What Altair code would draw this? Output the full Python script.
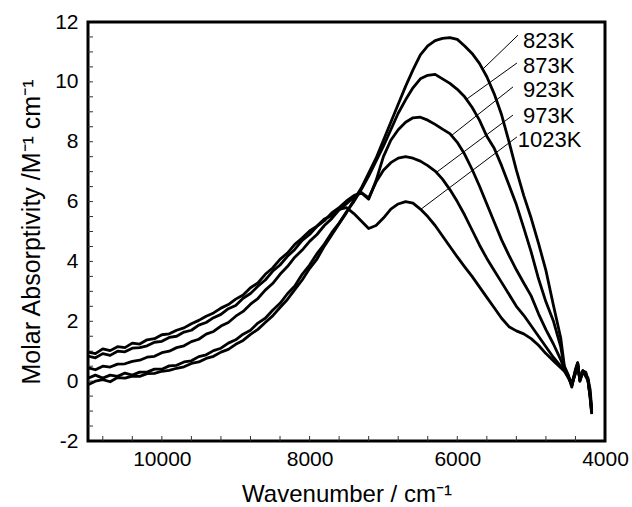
import altair as alt
import pandas as pd

# ---- data ----
wavenumber = [11000, 10900, 10800, 10700, 10600, 10500, 10400, 10300, 10200, 10100,
              10000, 9900, 9800, 9700, 9600, 9500, 9400, 9300, 9200, 9100,
              9000, 8900, 8800, 8700, 8600, 8500, 8400, 8300, 8200, 8100,
              8000, 7900, 7800, 7700, 7600, 7500, 7400, 7300, 7200, 7100,
              7000, 6900, 6800, 6700, 6600, 6500, 6400, 6300, 6200, 6100,
              6000, 5900, 5800, 5700, 5600, 5500, 5400, 5300, 5200, 5100,
              5000, 4900, 4800, 4700, 4600, 4550, 4500, 4450, 4400, 4370,
              4340, 4300, 4260, 4230, 4200, 4180]

a_823 = [-0.12, 0.00, 0.05, -0.02, 0.12, 0.10, 0.17, 0.16, 0.25, 0.26,
         0.33, 0.36, 0.43, 0.48, 0.59, 0.64, 0.76, 0.83, 0.97, 1.06,
         1.23, 1.36, 1.56, 1.73, 1.96, 2.18, 2.46, 2.73, 3.06, 3.38,
         3.76, 4.08, 4.51, 4.88, 5.26, 5.63, 6.05, 6.45, 6.95, 7.45,
         8.05, 8.65, 9.25, 9.85, 10.40, 10.90, 11.20, 11.38, 11.45, 11.48,
         11.42, 11.20, 10.95, 10.62, 10.17, 9.60, 8.90, 8.00, 7.05, 6.20,
         5.45, 4.60, 3.70, 2.55, 1.45, 0.50, 0.22, -0.15, 0.40, 0.62,
         0.00, 0.35, 0.30, 0.05, -0.60, -1.10]

a_873 = [0.10, 0.20, 0.10, 0.20, 0.16, 0.27, 0.20, 0.30, 0.30, 0.40,
         0.40, 0.51, 0.53, 0.64, 0.68, 0.82, 0.88, 1.02, 1.10, 1.27,
         1.38, 1.57, 1.70, 1.94, 2.10, 2.37, 2.60, 2.92, 3.18, 3.57,
         3.88, 4.26, 4.58, 4.96, 5.28, 5.66, 6.00, 6.40, 6.85, 7.35,
         7.85, 8.40, 8.95, 9.40, 9.80, 10.10, 10.22, 10.25, 10.10, 9.95,
         9.75, 9.50, 9.15, 8.72, 8.18, 7.78, 7.20, 6.55, 5.90, 5.12,
         4.32, 3.42, 2.65, 2.02, 1.15, 0.45, 0.20, -0.20, 0.35, 0.60,
         0.05, 0.30, 0.25, 0.00, -0.55, -1.05]

a_923 = [0.45, 0.38, 0.50, 0.47, 0.57, 0.58, 0.66, 0.70, 0.80, 0.83,
         0.95, 1.00, 1.12, 1.18, 1.32, 1.40, 1.57, 1.66, 1.84, 1.96,
         2.17, 2.33, 2.57, 2.76, 3.04, 3.26, 3.57, 3.83, 4.14, 4.38,
         4.67, 4.90, 5.20, 5.43, 5.72, 5.93, 6.15, 6.30, 6.08, 6.70,
         7.50, 8.05, 8.40, 8.65, 8.80, 8.82, 8.72, 8.58, 8.42, 8.27,
         7.98, 7.58, 7.08, 6.52, 5.92, 5.32, 4.72, 4.20, 3.72, 3.28,
         2.85, 2.25, 1.72, 1.25, 0.72, 0.40, 0.18, -0.15, 0.30, 0.60,
         0.00, 0.30, 0.20, 0.00, -0.50, -1.05]

a_973 = [0.84, 0.78, 0.92, 0.86, 1.00, 0.98, 1.10, 1.12, 1.18, 1.30,
         1.33, 1.46, 1.50, 1.64, 1.70, 1.87, 1.96, 2.12, 2.23, 2.42,
         2.53, 2.77, 2.93, 3.17, 3.38, 3.67, 3.88, 4.17, 4.40, 4.70,
         4.90, 5.17, 5.36, 5.62, 5.80, 6.02, 6.20, 6.30, 6.12, 6.65,
         7.05, 7.30, 7.45, 7.50, 7.45, 7.35, 7.20, 7.02, 6.75, 6.40,
         6.00, 5.55, 5.05, 4.55, 4.10, 3.70, 3.30, 2.90, 2.50, 2.20,
         1.85, 1.50, 1.15, 0.80, 0.50, 0.35, 0.12, -0.10, 0.25, 0.55,
         0.05, 0.35, 0.15, 0.05, -0.45, -1.00]

a_1023 = [0.97, 0.92, 1.08, 1.02, 1.15, 1.12, 1.27, 1.24, 1.38, 1.42,
          1.55, 1.58, 1.70, 1.78, 1.92, 2.03, 2.17, 2.28, 2.44, 2.56,
          2.74, 2.88, 3.12, 3.28, 3.57, 3.78, 4.07, 4.28, 4.57, 4.78,
          5.02, 5.18, 5.42, 5.53, 5.74, 5.80, 5.60, 5.35, 5.10, 5.20,
          5.45, 5.75, 5.92, 6.00, 5.95, 5.75, 5.50, 5.20, 4.85, 4.50,
          4.15, 3.82, 3.50, 3.15, 2.80, 2.45, 2.10, 1.82, 1.68, 1.58,
          1.42, 1.20, 0.92, 0.68, 0.45, 0.33, 0.15, -0.05, 0.30, 0.50,
          0.10, 0.30, 0.20, 0.10, -0.30, -0.95]

series_names = ["823K", "873K", "923K", "973K", "1023K"]
series_values = [a_823, a_873, a_923, a_973, a_1023]

# label annotations (text position and leader line, in data units)
label_text = ["823K", "873K", "923K", "973K", "1023K"]
label_wn = [5110, 5110, 5110, 5110, 5180]
label_a = [11.36, 10.53, 9.73, 8.86, 8.06]
leader_wn1 = [5178, 5192, 5246, 5246, 5192]
leader_a1 = [11.56, 10.63, 9.83, 8.89, 8.16]
leader_wn2 = [5665, 5869, 6072, 6275, 6505]
leader_a2 = [10.40, 9.43, 8.22, 6.99, 5.72]

x_major = [10000, 8000, 6000, 4000]
x_minor_ticks = [10800, 10400, 10000, 9600, 9200, 8800, 8400, 8000, 7600, 7200,
                 6800, 6400, 6000, 5600, 5200, 4800, 4400]
y_major = [-2, 0, 2, 4, 6, 8, 10, 12]
y_minor_ticks = [-1.5, -1, -0.5, 0, 0.5, 1, 1.5, 2, 2.5, 3, 3.5, 4, 4.5, 5, 5.5,
                 6, 6.5, 7, 7.5, 8, 8.5, 9, 9.5, 10, 10.5, 11, 11.5]

# ---- tables ----
rows = []
for name, vals in zip(series_names, series_values):
    for w, a in zip(wavenumber, vals):
        rows.append({"wn": w, "A": a, "series": name})
df = pd.DataFrame(rows)

labels_df = pd.DataFrame({"wn": label_wn, "A": label_a, "text": label_text})
leaders_df = pd.DataFrame({"w1": leader_wn1, "a1": leader_a1,
                           "w2": leader_wn2, "a2": leader_a2})
xt_df = pd.DataFrame({"t": x_minor_ticks})
yt_df = pd.DataFrame({"t": y_minor_ticks})

W, H = 517, 419
FONT = "Liberation Sans"

xscale = alt.Scale(domain=[4000, 11000], reverse=True, nice=False, zero=False)
yscale = alt.Scale(domain=[-2, 12], nice=False, zero=False)

x_axis = alt.Axis(values=x_major, format="d", title="Wavenumber / cm\u207b\u00b9",
                  labelFontSize=21, titleFontSize=24, labelPadding=7, titlePadding=13,
                  ticks=False, domain=False, grid=False, labelFlush=False)
y_axis = alt.Axis(values=y_major, labelExpr="'' + datum.value",
                  title="Molar Absorptivity /M\u207b\u00b9 cm\u207b\u00b9",
                  labelFontSize=21, titleFontSize=25, labelPadding=10, titlePadding=10,
                  ticks=False, domain=False, grid=False, labelFlush=False)

lines = alt.Chart(df).mark_line(color="black", strokeWidth=2.8, clip=True,
                                strokeJoin="round").encode(
    x=alt.X("wn:Q", scale=xscale, axis=x_axis),
    y=alt.Y("A:Q", scale=yscale, axis=y_axis),
    detail="series:N",
    order=alt.Order("wn:Q", sort="descending"),
)

leaders = alt.Chart(leaders_df).mark_rule(color="black", strokeWidth=1).encode(
    x=alt.X("w1:Q", scale=xscale), x2="w2:Q",
    y=alt.Y("a1:Q", scale=yscale), y2="a2:Q",
)

texts = alt.Chart(labels_df).mark_text(
    align="left", baseline="middle", fontSize=22, font=FONT, color="black"
).encode(
    x=alt.X("wn:Q", scale=xscale), y=alt.Y("A:Q", scale=yscale), text="text:N"
)

xticks = alt.Chart(xt_df).mark_rule(color="#333333", strokeWidth=1).encode(
    x=alt.X("t:Q", scale=xscale), y=alt.value(H), y2=alt.value(H - 5)
)
yticks = alt.Chart(yt_df).mark_rule(color="#333333", strokeWidth=1).encode(
    y=alt.Y("t:Q", scale=yscale), x=alt.value(0), x2=alt.value(5)
)

chart = alt.layer(xticks, yticks, lines, leaders, texts).properties(
    width=W, height=H,
    autosize=alt.AutoSizeParams(type="none"),
    padding={"left": 88, "top": 22, "right": 27, "bottom": 66},
    background="white",
).configure_view(
    stroke="black", strokeWidth=3
).configure_axis(
    labelFont=FONT, titleFont=FONT, labelColor="black", titleColor="black",
    titleFontWeight="normal"
)

chart.save("out.html", embed_options={"renderer": "svg", "actions": False})
